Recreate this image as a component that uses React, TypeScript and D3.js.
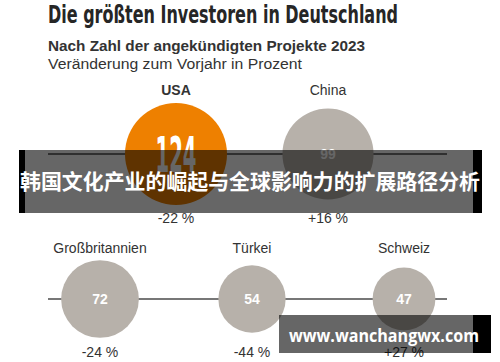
import React from 'react';
import * as d3 from 'd3';

const countries = ['USA', 'China', 'Großbritannien', 'Türkei', 'Schweiz'];
const projects = [124, 99, 72, 54, 47];
const changes = [-22, 16, -24, -44, 27];
// row / column slot of each country (row 0 sits between the columns of row 1)
const rows = [0, 0, 1, 1, 1];
const cols = [0.5, 1.5, 0, 1, 2];

const title = 'Die größten Investoren in Deutschland';
const subtitle = 'Nach Zahl der angekündigten Projekte 2023';
const note = 'Veränderung zum Vorjahr in Prozent';
const banner = '韩国文化产业的崛起与全球影响力的扩展路径分析';
const watermark = 'www.wanchangwx.com';

const W = 500;
const H = 362;
const ORANGE = '#ee8000';
const GREY = '#b7b1aa';
const INK = '#262626';
const sans = "'Liberation Sans', Arial, sans-serif";
const narrow = "'Liberation Sans Narrow', 'DejaVu Sans Condensed', sans-serif";

const App: React.FC = () => {
  const x = d3.scaleLinear().domain([0, 2]).range([100, 404]);
  const rowY = d3.scaleOrdinal<number, number>().domain([0, 1]).range([154, 299]);
  const labelY = d3.scaleOrdinal<number, number>().domain([0, 1]).range([95, 253]);
  const changeY = d3.scaleOrdinal<number, number>().domain([0, 1]).range([223, 357]);
  const r = d3.scaleSqrt().domain([0, d3.max(projects)!]).range([0, 51]);
  const fmt = (v: number) => (v > 0 ? '+' : '') + v + ' %';

  const nodes = countries.map((c, i) => ({
    name: c,
    value: projects[i],
    change: changes[i],
    row: rows[i],
    cx: x(cols[i]),
    cy: rowY(rows[i]),
    rad: r(projects[i]),
    top: i === 0,
  }));

  return (
    <svg width={W} height={H} style={{ position: 'absolute', left: 0, top: 0, display: 'block', background: '#fff' }}>
      <text x={48} y={23} fontFamily={narrow} fontWeight="bold" fontSize={25} fill={INK}
        textLength={350} lengthAdjust="spacingAndGlyphs">{title}</text>
      <text x={48} y={51} fontFamily={sans} fontWeight="bold" fontSize={14} fill="#333"
        textLength={317} lengthAdjust="spacingAndGlyphs">{subtitle}</text>
      <text x={48} y={69} fontFamily={sans} fontSize={14} fill="#333"
        textLength={254} lengthAdjust="spacingAndGlyphs">{note}</text>

      {[0, 1].map(row => (
        <line key={row} x1={48} x2={447} y1={rowY(row)} y2={rowY(row)} stroke="#4a4a4a" strokeWidth={1.5} />
      ))}

      {nodes.map(n => (
        <g key={n.name}>
          <circle cx={n.cx} cy={n.cy} r={n.rad} fill={n.top ? ORANGE : GREY} />
          <text x={n.cx} y={labelY(n.row)} textAnchor="middle" fontFamily={sans}
            fontWeight={n.top ? 'bold' : 'normal'} fontSize={14} fill="#333">{n.name}</text>
          {n.top ? (
            <text x={n.cx} y={n.cy + 18} textAnchor="middle" fontFamily={narrow} fontWeight="bold" fontSize={50}
              fill="#fff" textLength={41} lengthAdjust="spacingAndGlyphs">{n.value}</text>
          ) : (
            <text x={n.cx} y={n.cy + 5} textAnchor="middle" fontFamily={sans} fontWeight="bold" fontSize={14}
              fill="#fff">{n.value}</text>
          )}
          <text x={n.cx} y={changeY(n.row)} textAnchor="middle" fontFamily={sans}
            fontSize={14} fill="#333">{fmt(n.change)}</text>
        </g>
      ))}

      {/* overlay banner */}
      <rect x={19} y={150} width={463} height={63} fill="rgba(0,0,0,0.6)" />
      <rect x={19} y={150} width={6} height={63} fill="#000" />
      <rect x={473} y={150} width={9} height={63} fill="#000" />
      <text x={250} y={189} textAnchor="middle" fontFamily="'Noto Sans CJK SC', sans-serif" fontWeight="bold"
        fontSize={21} fill="#fff" textLength={460} lengthAdjust="spacingAndGlyphs">{banner}</text>

      {/* watermark */}
      <rect x={279} y={315} width={212} height={38} fill="rgba(0,0,0,0.6)" />
      <rect x={473} y={315} width={18} height={38} fill="#000" />
      <text x={289} y={342} fontFamily="'Open Sans', sans-serif" fontWeight="bold" fontSize={18} fill="#fff"
        textLength={190} lengthAdjust="spacingAndGlyphs">{watermark}</text>
    </svg>
  );
};

export default App;
